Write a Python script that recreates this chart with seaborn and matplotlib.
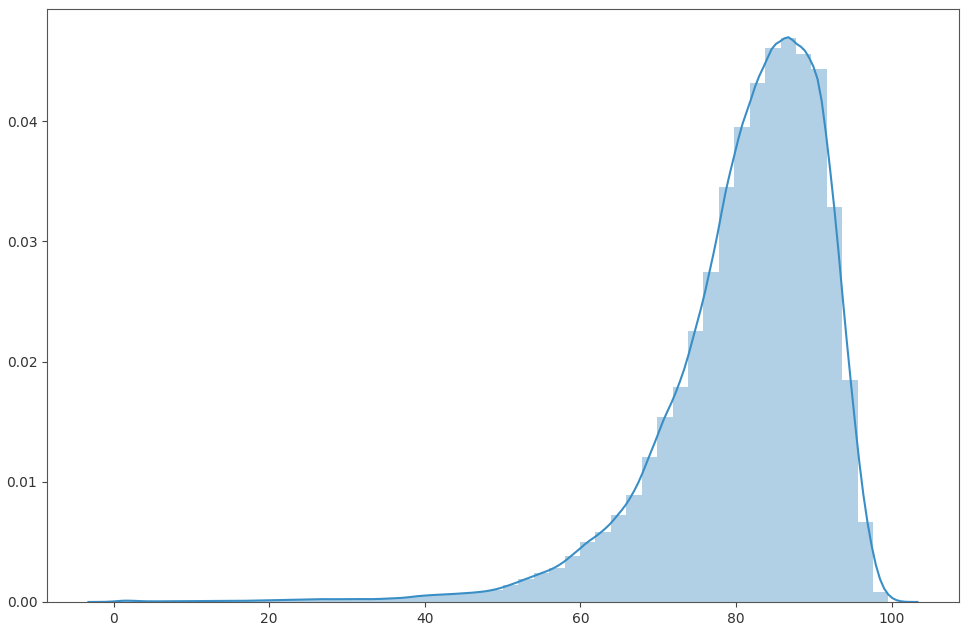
import numpy as np
import pandas as pd
import matplotlib
matplotlib.use("Agg")
import matplotlib.pyplot as plt
import seaborn as sns

# Histogram: 50 equal bins between the data minimum and maximum
bin_low = 0.5
bin_high = 99.6
n_bins = 50

# Bar heights (density), left to right
heights = [
    0.00015, 0.00005, 0.00005, 0.00006, 0.00007, 0.00008, 0.00008, 0.00009,
    0.00010, 0.00013, 0.00016, 0.00018, 0.00022, 0.00024, 0.00022, 0.00025,
    0.00022, 0.00028, 0.00032, 0.00050, 0.00058, 0.00064, 0.00072, 0.00081,
    0.00100, 0.00141, 0.00191, 0.00238, 0.00285, 0.00385, 0.00501, 0.00580,
    0.00721, 0.00890, 0.01203, 0.01541, 0.01791, 0.02256, 0.02747, 0.03454,
    0.03953, 0.04314, 0.04613, 0.04696, 0.04563, 0.04432, 0.03285, 0.01846,
    0.00668, 0.00086,
]

y_ticks = [0.00, 0.01, 0.02, 0.03, 0.04]
x_ticks = [0, 20, 40, 60, 80, 100]

edges = np.linspace(bin_low, bin_high, n_bins + 1)
centers = (edges[:-1] + edges[1:]) / 2
h = np.array(heights)
df = pd.DataFrame({"value": centers, "density": h})

plt.rcParams["text.color"] = "#333333"
plt.rcParams["xtick.color"] = "#444444"
plt.rcParams["ytick.color"] = "#444444"
plt.rcParams["xtick.labelcolor"] = "#333333"
plt.rcParams["ytick.labelcolor"] = "#333333"

fig = plt.figure(figsize=(9.71, 6.24), dpi=100)
ax = fig.add_axes([0.0484, 0.0353, 0.9392, 0.9503])

sns.histplot(data=df, x="value", weights="density", bins=n_bins,
             binrange=(bin_low, bin_high), stat="count",
             color="#1f77b4", alpha=0.34, linewidth=0, ax=ax)

mean = np.sum(centers * h) / np.sum(h)
std = np.sqrt(np.sum(h * (centers - mean) ** 2) / np.sum(h))
bw = 1.15
sns.kdeplot(data=df, x="value", weights="density", bw_method=bw / std, cut=1.5,
            color="#3a8ec6", linewidth=1.5, ax=ax)

ax.set_xticks(x_ticks)
ax.set_yticks(y_ticks)
ax.set_yticklabels([f"{t:.2f}" for t in y_ticks])
ax.set_xlabel("")
ax.set_ylabel("")
for s in ax.spines.values():
    s.set_color("#555555")

fig.savefig("out.png", dpi=100)
